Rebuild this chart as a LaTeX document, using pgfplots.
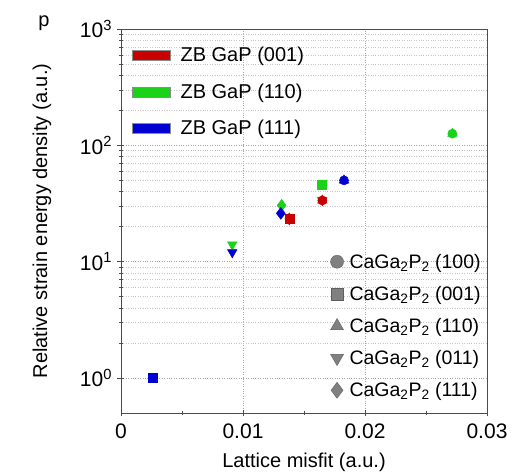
\documentclass[border=0pt]{standalone}
\usepackage{fontspec}
\setmainfont{Liberation Sans}
\usepackage{pgfplots}
\pgfplotsset{compat=1.18}
\definecolor{cred}{RGB}{200,0,0}
\definecolor{cgreen}{RGB}{25,210,25}
\definecolor{cblue}{RGB}{0,0,210}
\definecolor{cgray}{RGB}{128,128,128}
\definecolor{cgrayd}{RGB}{95,95,95}
\begin{document}
\begin{tikzpicture}
\begin{axis}[
  at={(0pt,0pt)}, anchor=south west, scale only axis,
  width=366pt, height=384pt,
  xmin=0, xmax=0.03, ymode=log, ymin=0.5, ymax=1000,
  xtick={0,0.01,0.02,0.03}, xticklabels={0,0.01,0.02,0.03},
  scaled x ticks=false,
  minor xtick={0.005,0.015,0.025},
  ytick={1,10,100,1000},
  yticklabels={10\textsuperscript{0},10\textsuperscript{1},10\textsuperscript{2},10\textsuperscript{3}},
  xtick pos=bottom, ytick pos=left,
  tick align=center,
  major tick length=7pt, minor tick length=4pt,
  tick style={black!70, line width=0.6pt},
  axis line style={black!70, line width=0.8pt},
  ymajorgrids, yminorgrids, xmajorgrids,
  major grid style={dotted, gray!70, line width=0.6pt},
  minor grid style={dotted, gray!45, line width=0.5pt},
  ticklabel style={font=\fontsize{21}{25}\selectfont},
  xticklabel style={yshift=-4pt},
  yticklabel style={xshift=-2pt},
  every axis x label/.style={at={(axis description cs:0.5,-0.128)}, anchor=center, font=\fontsize{20}{24}\selectfont},
  every axis y label/.style={at={(axis description cs:-0.216,0.5)}, anchor=center, rotate=90, font=\fontsize{20}{24}\selectfont},
  xlabel={Lattice misfit (a.u.)},
  ylabel={Relative strain energy density (a.u.)},
  legend image code/.code={\draw[#1] (0pt,-5pt) rectangle (38pt,5pt);},
  legend style={draw=none, fill=none, at={(0.03,0.958)}, anchor=north west,
    inner xsep=0pt, inner ysep=0pt, row sep=16.5pt,
    /tikz/every odd column/.append style={column sep=8pt},
    font=\fontsize{20}{24}\selectfont},
  legend cell align=left,
  clip=false,
]
\addlegendimage{fill=cred, draw=black!45}
\addlegendentry{ZB GaP (001)}
\addlegendimage{fill=cgreen, draw=black!45}
\addlegendentry{ZB GaP (110)}
\addlegendimage{fill=cblue, draw=black!45}
\addlegendentry{ZB GaP (111)}
% red
\addplot[forget plot, only marks, mark=square*, mark size=4.5, cred] coordinates {(0.0138,23.3)};
\addplot[forget plot, only marks, mark=diamond*, mark size=6, cred] coordinates {(0.0138,23.3)};
\addplot[forget plot, only marks, mark=*, mark size=4.6, cred] coordinates {(0.0165,33.6)};
\addplot[forget plot, only marks, mark=triangle*, mark size=5.5, cred] coordinates {(0.0165,33.6)};
\addplot[forget plot, only marks, mark=triangle*, mark size=5.5, mark options={rotate=180}, cred] coordinates {(0.0165,33.6)};
% green
\addplot[forget plot, only marks, mark=triangle*, mark size=5.5, mark options={rotate=180}, cgreen] coordinates {(0.00912,14.0)};
\addplot[forget plot, only marks, mark=diamond*, mark size=6, cgreen] coordinates {(0.01317,30.5)};
\addplot[forget plot, only marks, mark=square*, mark size=4.5, cgreen] coordinates {(0.01648,46)};
\addplot[forget plot, only marks, mark=*, mark size=4.6, cgreen] coordinates {(0.02716,126)};
\addplot[forget plot, only marks, mark=triangle*, mark size=5.5, cgreen] coordinates {(0.02716,126)};
% blue
\addplot[forget plot, only marks, mark=square*, mark size=4.5, cblue] coordinates {(0.0026,1.0)};
\addplot[forget plot, only marks, mark=triangle*, mark size=5.5, mark options={rotate=180}, cblue] coordinates {(0.00912,12.0)};
\addplot[forget plot, only marks, mark=diamond*, mark size=6, cblue] coordinates {(0.0131,26)};
\addplot[forget plot, only marks, mark=*, mark size=4.6, cblue] coordinates {(0.01828,50)};
\addplot[forget plot, only marks, mark=triangle*, mark size=5.5, cblue] coordinates {(0.01828,50)};
\end{axis}
\begin{axis}[
  at={(0pt,0pt)}, anchor=south west, scale only axis,
  width=366pt, height=384pt,
  xmin=0, xmax=0.03, ymin=0.5, ymax=1000,
  hide axis,
  legend style={draw=none, fill=none, at={(0.572,0.42)}, anchor=north west,
    inner xsep=0pt, inner ysep=0pt, row sep=12.5pt,
    /tikz/every odd column/.append style={column sep=4pt},
    font=\fontsize{19.5}{23}\selectfont},
  legend cell align=left,
]
\addlegendimage{only marks, mark=*, mark size=6.5, draw=cgrayd, fill=cgray}
\addlegendentry{CaGa\textsubscript{2}P\textsubscript{2} (100)}
\addlegendimage{only marks, mark=square*, mark size=6, draw=cgrayd, fill=cgray}
\addlegendentry{CaGa\textsubscript{2}P\textsubscript{2} (001)}
\addlegendimage{only marks, mark=triangle*, mark size=7.5, draw=cgrayd, fill=cgray}
\addlegendentry{CaGa\textsubscript{2}P\textsubscript{2} (110)}
\addlegendimage{only marks, mark=triangle*, mark size=7.5, mark options={rotate=180}, draw=cgrayd, fill=cgray}
\addlegendentry{CaGa\textsubscript{2}P\textsubscript{2} (011)}
\addlegendimage{only marks, mark=diamond*, mark size=8, draw=cgrayd, fill=cgray}
\addlegendentry{CaGa\textsubscript{2}P\textsubscript{2} (111)}
\end{axis}
\node[anchor=base, font=\fontsize{20}{24}\selectfont] at (-77pt,387pt) {p};
\pgfresetboundingbox
\useasboundingbox (-121pt,-62pt) rectangle (390pt,413pt);
\end{tikzpicture}
\end{document}
